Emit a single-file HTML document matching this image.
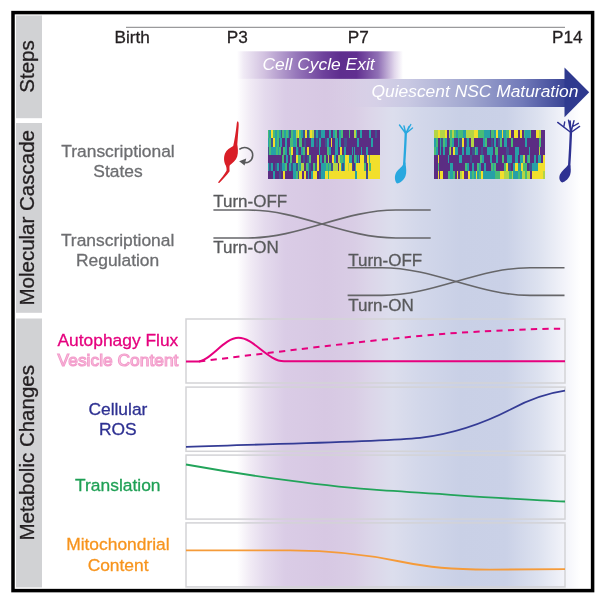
<!DOCTYPE html>
<html><head><meta charset="utf-8"><style>
html,body{margin:0;padding:0;background:#fff;width:595px;height:598px;overflow:hidden}
svg{display:block;filter:blur(0.55px)}
text{font-family:"Liberation Sans", sans-serif}
</style></head><body>
<svg width="595" height="598" viewBox="0 0 595 598">
<defs>
<linearGradient id="bg" gradientUnits="userSpaceOnUse" x1="237" y1="0" x2="591" y2="0">
<stop offset="0" stop-color="#ffffff"/>
<stop offset="0.037" stop-color="#f1ebf5"/>
<stop offset="0.079" stop-color="#e4daed"/>
<stop offset="0.136" stop-color="#dacce6"/>
<stop offset="0.25" stop-color="#d7c8e3"/>
<stop offset="0.33" stop-color="#d9cde5"/>
<stop offset="0.38" stop-color="#dcd6e9"/>
<stop offset="0.44" stop-color="#dcdeed"/>
<stop offset="0.52" stop-color="#d2d7ea"/>
<stop offset="0.63" stop-color="#c9d0e6"/>
<stop offset="0.76" stop-color="#cad1e7"/>
<stop offset="0.85" stop-color="#dce1ef"/>
<stop offset="0.927" stop-color="#f3f4fa"/>
<stop offset="0.97" stop-color="#ffffff"/>
<stop offset="1" stop-color="#ffffff"/>
</linearGradient>
<linearGradient id="pbar" gradientUnits="userSpaceOnUse" x1="237" y1="0" x2="403" y2="0">
<stop offset="0" stop-color="#ffffff"/>
<stop offset="0.04" stop-color="#f0eaf5"/>
<stop offset="0.16" stop-color="#d3c3e1"/>
<stop offset="0.36" stop-color="#9677ba"/>
<stop offset="0.52" stop-color="#6e429c"/>
<stop offset="0.62" stop-color="#5e2e8e"/>
<stop offset="0.72" stop-color="#612f90"/>
<stop offset="0.85" stop-color="#9070b5"/>
<stop offset="0.95" stop-color="#e2d8ec"/>
<stop offset="1" stop-color="#ffffff"/>
</linearGradient>
<linearGradient id="arrow" gradientUnits="userSpaceOnUse" x1="237" y1="0" x2="565" y2="0">
<stop offset="0" stop-color="#d8c9e3" stop-opacity="0"/>
<stop offset="0.28" stop-color="#d8cbe4" stop-opacity="0"/>
<stop offset="0.42" stop-color="#d6d0e7"/>
<stop offset="0.52" stop-color="#c9c9e3"/>
<stop offset="0.71" stop-color="#a0a6cf"/>
<stop offset="0.87" stop-color="#717ab9"/>
<stop offset="1" stop-color="#3a4495"/>
</linearGradient>
</defs>

<!-- background gradient -->
<rect x="237" y="79" width="354" height="509" fill="url(#bg)"/>

<!-- sidebars -->
<g fill="#d1d2d4">
<rect x="16" y="15.5" width="26" height="102.7"/>
<rect x="16" y="123" width="26" height="189.8"/>
<rect x="16" y="318.5" width="26" height="268.9"/>
</g>
<g font-size="20.5" fill="#231f20" stroke="#231f20" stroke-width="0.3" text-anchor="middle">
<text transform="translate(34.2,66.5) rotate(-90)">Steps</text>
<text transform="translate(34.2,217.8) rotate(-90)">Molecular Cascade</text>
<text transform="translate(34.2,452.8) rotate(-90)">Metabolic Changes</text>
</g>

<!-- timeline -->
<line x1="126" y1="27.3" x2="565" y2="27.3" stroke="#9a9a9c" stroke-width="1.3"/>
<g font-size="17.2" fill="#231f20" stroke="#231f20" stroke-width="0.3">
<text x="114.5" y="42.7">Birth</text>
<text x="226.8" y="42.7">P3</text>
<text x="347.8" y="42.7">P7</text>
<text x="552" y="42.7">P14</text>
</g>

<!-- purple bar -->
<rect x="237" y="51.3" width="166" height="27.6" fill="url(#pbar)"/>
<text x="262.5" y="69.6" font-size="17.4" font-style="italic" fill="#ffffff">Cell Cycle Exit</text>

<!-- arrow -->
<rect x="237" y="79" width="328" height="28" fill="url(#arrow)"/>
<polygon points="564.5,67.6 589.2,92.3 564.5,117.2" fill="#2f3a8f"/>
<text x="371.5" y="96.5" font-size="17.4" font-style="italic" fill="#ffffff">Quiescent NSC Maturation</text>

<!-- labels -->
<g font-size="17.4" fill="#6d6e71" stroke="#6d6e71" stroke-width="0.3" text-anchor="middle">
<text x="118" y="156.5">Transcriptional</text>
<text x="118" y="176.5">States</text>
<text x="117.6" y="246">Transcriptional</text>
<text x="117.6" y="266">Regulation</text>
</g>

<!-- red cell -->
<path d="M237.8,121.3 C238.8,122 238.8,124 238.6,127 L237.3,144.5 C237.8,148 238.5,152 237.2,156.5 C236,160.5 232.5,162.8 229.8,165.2 C229.2,166.5 229.6,169.5 229.6,171.2 C227,175 222.5,179.5 219.5,182.8 C218.8,183.3 218,182.8 218.3,182 C221,178.5 224.5,174.5 226.5,170.8 C226.8,169 226.4,167 225.8,165.5 C223.8,162.5 223.5,157 225,153.5 C226.5,150 230,147.8 233.2,146 C234.5,140 235.8,132 236.6,125 C236.8,122.5 237.2,121.3 237.8,121.3 Z" fill="#d91e27"/>
<!-- cycle arrow -->
<path d="M239.3,149.3 C245.5,145 253,149.5 252.7,155.5 C252.4,161.5 247,163.5 243.5,162.3" fill="none" stroke="#58595b" stroke-width="1.6"/>
<polygon points="239.2,161.2 246.2,158.6 244.6,165.6" fill="#58595b"/>

<!-- heatmaps -->
<g shape-rendering="crispEdges">
<rect x="267.60" y="130.30" width="2.07" height="8.40" fill="#48bc76"/>
<rect x="269.42" y="130.30" width="2.07" height="8.40" fill="#27a0a7"/>
<rect x="271.24" y="130.30" width="2.07" height="8.40" fill="#f2df2c"/>
<rect x="273.06" y="130.30" width="2.07" height="8.40" fill="#48bc76"/>
<rect x="274.88" y="130.30" width="2.07" height="8.40" fill="#27a0a7"/>
<rect x="276.70" y="130.30" width="2.07" height="8.40" fill="#48bc76"/>
<rect x="278.52" y="130.30" width="1.16" height="8.40" fill="#40538f"/>
<rect x="279.43" y="130.30" width="2.07" height="8.40" fill="#27a0a7"/>
<rect x="281.25" y="130.30" width="1.16" height="8.40" fill="#40538f"/>
<rect x="282.16" y="130.30" width="2.07" height="8.40" fill="#48bc76"/>
<rect x="283.98" y="130.30" width="2.07" height="8.40" fill="#27a0a7"/>
<rect x="285.80" y="130.30" width="2.07" height="8.40" fill="#48bc76"/>
<rect x="287.61" y="130.30" width="2.07" height="8.40" fill="#27a0a7"/>
<rect x="289.43" y="130.30" width="2.07" height="8.40" fill="#40538f"/>
<rect x="291.25" y="130.30" width="2.07" height="8.40" fill="#48bc76"/>
<rect x="293.07" y="130.30" width="2.98" height="8.40" fill="#27a0a7"/>
<rect x="295.80" y="130.30" width="2.07" height="8.40" fill="#b3d546"/>
<rect x="297.62" y="130.30" width="2.07" height="8.40" fill="#f2df2c"/>
<rect x="299.44" y="130.30" width="2.07" height="8.40" fill="#48bc76"/>
<rect x="301.26" y="130.30" width="2.07" height="8.40" fill="#27a0a7"/>
<rect x="303.08" y="130.30" width="2.07" height="8.40" fill="#40538f"/>
<rect x="304.90" y="130.30" width="2.07" height="8.40" fill="#f2df2c"/>
<rect x="306.72" y="130.30" width="2.07" height="8.40" fill="#40538f"/>
<rect x="308.54" y="130.30" width="2.07" height="8.40" fill="#48bc76"/>
<rect x="310.36" y="130.30" width="2.07" height="8.40" fill="#f2df2c"/>
<rect x="312.18" y="130.30" width="2.07" height="8.40" fill="#b3d546"/>
<rect x="314.00" y="130.30" width="2.07" height="8.40" fill="#40538f"/>
<rect x="315.82" y="130.30" width="2.07" height="8.40" fill="#27a0a7"/>
<rect x="317.64" y="130.30" width="3.89" height="8.40" fill="#40538f"/>
<rect x="321.28" y="130.30" width="3.89" height="8.40" fill="#27a0a7"/>
<rect x="324.91" y="130.30" width="3.89" height="8.40" fill="#5b2d83"/>
<rect x="328.55" y="130.30" width="2.98" height="8.40" fill="#27a0a7"/>
<rect x="331.28" y="130.30" width="2.07" height="8.40" fill="#5b2d83"/>
<rect x="333.10" y="130.30" width="2.07" height="8.40" fill="#27a0a7"/>
<rect x="334.92" y="130.30" width="2.07" height="8.40" fill="#48bc76"/>
<rect x="336.74" y="130.30" width="2.98" height="8.40" fill="#5b2d83"/>
<rect x="339.47" y="130.30" width="2.07" height="8.40" fill="#27a0a7"/>
<rect x="341.29" y="130.30" width="2.07" height="8.40" fill="#48bc76"/>
<rect x="343.11" y="130.30" width="5.71" height="8.40" fill="#5b2d83"/>
<rect x="348.57" y="130.30" width="2.07" height="8.40" fill="#48bc76"/>
<rect x="350.39" y="130.30" width="3.89" height="8.40" fill="#5b2d83"/>
<rect x="354.03" y="130.30" width="2.07" height="8.40" fill="#b3d546"/>
<rect x="355.85" y="130.30" width="1.16" height="8.40" fill="#27a0a7"/>
<rect x="356.76" y="130.30" width="3.89" height="8.40" fill="#5b2d83"/>
<rect x="360.40" y="130.30" width="2.07" height="8.40" fill="#27a0a7"/>
<rect x="362.21" y="130.30" width="6.62" height="8.40" fill="#5b2d83"/>
<rect x="368.58" y="130.30" width="1.16" height="8.40" fill="#40538f"/>
<rect x="369.49" y="130.30" width="2.07" height="8.40" fill="#27a0a7"/>
<rect x="371.31" y="130.30" width="3.89" height="8.40" fill="#5b2d83"/>
<rect x="374.95" y="130.30" width="2.07" height="8.40" fill="#40538f"/>
<rect x="376.77" y="130.30" width="2.98" height="8.40" fill="#5b2d83"/>
<rect x="267.60" y="138.45" width="2.07" height="8.40" fill="#27a0a7"/>
<rect x="269.42" y="138.45" width="2.07" height="8.40" fill="#48bc76"/>
<rect x="271.24" y="138.45" width="2.07" height="8.40" fill="#40538f"/>
<rect x="273.06" y="138.45" width="2.07" height="8.40" fill="#f2df2c"/>
<rect x="274.88" y="138.45" width="2.07" height="8.40" fill="#27a0a7"/>
<rect x="276.70" y="138.45" width="2.07" height="8.40" fill="#48bc76"/>
<rect x="278.52" y="138.45" width="2.07" height="8.40" fill="#40538f"/>
<rect x="280.34" y="138.45" width="2.07" height="8.40" fill="#27a0a7"/>
<rect x="282.16" y="138.45" width="2.98" height="8.40" fill="#5b2d83"/>
<rect x="284.89" y="138.45" width="2.07" height="8.40" fill="#27a0a7"/>
<rect x="286.70" y="138.45" width="3.89" height="8.40" fill="#5b2d83"/>
<rect x="290.34" y="138.45" width="2.98" height="8.40" fill="#48bc76"/>
<rect x="293.07" y="138.45" width="2.98" height="8.40" fill="#27a0a7"/>
<rect x="295.80" y="138.45" width="1.16" height="8.40" fill="#48bc76"/>
<rect x="296.71" y="138.45" width="2.07" height="8.40" fill="#5b2d83"/>
<rect x="298.53" y="138.45" width="3.89" height="8.40" fill="#48bc76"/>
<rect x="302.17" y="138.45" width="2.07" height="8.40" fill="#5b2d83"/>
<rect x="303.99" y="138.45" width="2.07" height="8.40" fill="#40538f"/>
<rect x="305.81" y="138.45" width="5.71" height="8.40" fill="#5b2d83"/>
<rect x="311.27" y="138.45" width="2.98" height="8.40" fill="#27a0a7"/>
<rect x="314.00" y="138.45" width="2.07" height="8.40" fill="#5b2d83"/>
<rect x="315.82" y="138.45" width="2.07" height="8.40" fill="#40538f"/>
<rect x="317.64" y="138.45" width="2.07" height="8.40" fill="#5b2d83"/>
<rect x="319.46" y="138.45" width="2.07" height="8.40" fill="#27a0a7"/>
<rect x="321.28" y="138.45" width="3.89" height="8.40" fill="#5b2d83"/>
<rect x="324.91" y="138.45" width="2.07" height="8.40" fill="#40538f"/>
<rect x="326.73" y="138.45" width="2.98" height="8.40" fill="#27a0a7"/>
<rect x="329.46" y="138.45" width="2.07" height="8.40" fill="#5b2d83"/>
<rect x="331.28" y="138.45" width="1.16" height="8.40" fill="#f2df2c"/>
<rect x="332.19" y="138.45" width="2.98" height="8.40" fill="#5b2d83"/>
<rect x="334.92" y="138.45" width="2.98" height="8.40" fill="#27a0a7"/>
<rect x="337.65" y="138.45" width="2.07" height="8.40" fill="#5b2d83"/>
<rect x="339.47" y="138.45" width="2.07" height="8.40" fill="#27a0a7"/>
<rect x="341.29" y="138.45" width="2.98" height="8.40" fill="#5b2d83"/>
<rect x="344.02" y="138.45" width="2.98" height="8.40" fill="#40538f"/>
<rect x="346.75" y="138.45" width="10.26" height="8.40" fill="#5b2d83"/>
<rect x="356.76" y="138.45" width="2.07" height="8.40" fill="#27a0a7"/>
<rect x="358.58" y="138.45" width="12.99" height="8.40" fill="#5b2d83"/>
<rect x="371.31" y="138.45" width="2.07" height="8.40" fill="#27a0a7"/>
<rect x="373.13" y="138.45" width="6.62" height="8.40" fill="#5b2d83"/>
<rect x="267.60" y="146.60" width="2.07" height="8.40" fill="#40538f"/>
<rect x="269.42" y="146.60" width="2.07" height="8.40" fill="#48bc76"/>
<rect x="271.24" y="146.60" width="4.80" height="8.40" fill="#27a0a7"/>
<rect x="275.79" y="146.60" width="2.07" height="8.40" fill="#48bc76"/>
<rect x="277.61" y="146.60" width="2.07" height="8.40" fill="#27a0a7"/>
<rect x="279.43" y="146.60" width="2.07" height="8.40" fill="#48bc76"/>
<rect x="281.25" y="146.60" width="2.07" height="8.40" fill="#5b2d83"/>
<rect x="283.07" y="146.60" width="2.07" height="8.40" fill="#48bc76"/>
<rect x="284.89" y="146.60" width="2.07" height="8.40" fill="#27a0a7"/>
<rect x="286.70" y="146.60" width="2.98" height="8.40" fill="#5b2d83"/>
<rect x="289.43" y="146.60" width="2.07" height="8.40" fill="#48bc76"/>
<rect x="291.25" y="146.60" width="2.07" height="8.40" fill="#f2df2c"/>
<rect x="293.07" y="146.60" width="2.98" height="8.40" fill="#5b2d83"/>
<rect x="295.80" y="146.60" width="2.07" height="8.40" fill="#27a0a7"/>
<rect x="297.62" y="146.60" width="2.07" height="8.40" fill="#40538f"/>
<rect x="299.44" y="146.60" width="2.07" height="8.40" fill="#5b2d83"/>
<rect x="301.26" y="146.60" width="2.07" height="8.40" fill="#27a0a7"/>
<rect x="303.08" y="146.60" width="2.07" height="8.40" fill="#48bc76"/>
<rect x="304.90" y="146.60" width="2.07" height="8.40" fill="#5b2d83"/>
<rect x="306.72" y="146.60" width="2.07" height="8.40" fill="#f2df2c"/>
<rect x="308.54" y="146.60" width="10.26" height="8.40" fill="#5b2d83"/>
<rect x="318.55" y="146.60" width="2.07" height="8.40" fill="#27a0a7"/>
<rect x="320.37" y="146.60" width="6.62" height="8.40" fill="#5b2d83"/>
<rect x="326.73" y="146.60" width="2.07" height="8.40" fill="#48bc76"/>
<rect x="328.55" y="146.60" width="2.98" height="8.40" fill="#27a0a7"/>
<rect x="331.28" y="146.60" width="3.89" height="8.40" fill="#5b2d83"/>
<rect x="334.92" y="146.60" width="2.98" height="8.40" fill="#27a0a7"/>
<rect x="337.65" y="146.60" width="2.98" height="8.40" fill="#5b2d83"/>
<rect x="340.38" y="146.60" width="2.07" height="8.40" fill="#f2df2c"/>
<rect x="342.20" y="146.60" width="2.07" height="8.40" fill="#5b2d83"/>
<rect x="344.02" y="146.60" width="2.07" height="8.40" fill="#27a0a7"/>
<rect x="345.84" y="146.60" width="6.62" height="8.40" fill="#5b2d83"/>
<rect x="352.21" y="146.60" width="1.16" height="8.40" fill="#27a0a7"/>
<rect x="353.12" y="146.60" width="1.16" height="8.40" fill="#5b2d83"/>
<rect x="354.03" y="146.60" width="1.16" height="8.40" fill="#27a0a7"/>
<rect x="354.94" y="146.60" width="6.62" height="8.40" fill="#5b2d83"/>
<rect x="361.30" y="146.60" width="1.16" height="8.40" fill="#27a0a7"/>
<rect x="362.21" y="146.60" width="3.89" height="8.40" fill="#5b2d83"/>
<rect x="365.85" y="146.60" width="2.07" height="8.40" fill="#27a0a7"/>
<rect x="367.67" y="146.60" width="1.16" height="8.40" fill="#5b2d83"/>
<rect x="368.58" y="146.60" width="1.16" height="8.40" fill="#27a0a7"/>
<rect x="369.49" y="146.60" width="10.26" height="8.40" fill="#5b2d83"/>
<rect x="267.60" y="154.75" width="14.81" height="8.40" fill="#5b2d83"/>
<rect x="282.16" y="154.75" width="2.07" height="8.40" fill="#48bc76"/>
<rect x="283.98" y="154.75" width="2.07" height="8.40" fill="#5b2d83"/>
<rect x="285.80" y="154.75" width="2.07" height="8.40" fill="#27a0a7"/>
<rect x="287.61" y="154.75" width="2.98" height="8.40" fill="#5b2d83"/>
<rect x="290.34" y="154.75" width="2.07" height="8.40" fill="#48bc76"/>
<rect x="292.16" y="154.75" width="3.89" height="8.40" fill="#5b2d83"/>
<rect x="295.80" y="154.75" width="2.07" height="8.40" fill="#f2df2c"/>
<rect x="297.62" y="154.75" width="3.89" height="8.40" fill="#48bc76"/>
<rect x="301.26" y="154.75" width="2.07" height="8.40" fill="#5b2d83"/>
<rect x="303.08" y="154.75" width="2.07" height="8.40" fill="#40538f"/>
<rect x="304.90" y="154.75" width="2.07" height="8.40" fill="#5b2d83"/>
<rect x="306.72" y="154.75" width="2.07" height="8.40" fill="#40538f"/>
<rect x="308.54" y="154.75" width="2.98" height="8.40" fill="#48bc76"/>
<rect x="311.27" y="154.75" width="5.71" height="8.40" fill="#5b2d83"/>
<rect x="316.73" y="154.75" width="2.07" height="8.40" fill="#f2df2c"/>
<rect x="318.55" y="154.75" width="2.07" height="8.40" fill="#5b2d83"/>
<rect x="320.37" y="154.75" width="2.07" height="8.40" fill="#27a0a7"/>
<rect x="322.19" y="154.75" width="2.07" height="8.40" fill="#5b2d83"/>
<rect x="324.00" y="154.75" width="2.07" height="8.40" fill="#48bc76"/>
<rect x="325.82" y="154.75" width="2.07" height="8.40" fill="#5b2d83"/>
<rect x="327.64" y="154.75" width="2.07" height="8.40" fill="#b3d546"/>
<rect x="329.46" y="154.75" width="2.98" height="8.40" fill="#5b2d83"/>
<rect x="332.19" y="154.75" width="2.07" height="8.40" fill="#f2df2c"/>
<rect x="334.01" y="154.75" width="2.07" height="8.40" fill="#27a0a7"/>
<rect x="335.83" y="154.75" width="2.07" height="8.40" fill="#5b2d83"/>
<rect x="337.65" y="154.75" width="2.98" height="8.40" fill="#b3d546"/>
<rect x="340.38" y="154.75" width="2.98" height="8.40" fill="#48bc76"/>
<rect x="343.11" y="154.75" width="2.07" height="8.40" fill="#27a0a7"/>
<rect x="344.93" y="154.75" width="4.80" height="8.40" fill="#f2df2c"/>
<rect x="349.48" y="154.75" width="2.98" height="8.40" fill="#27a0a7"/>
<rect x="352.21" y="154.75" width="2.07" height="8.40" fill="#5b2d83"/>
<rect x="354.03" y="154.75" width="2.07" height="8.40" fill="#48bc76"/>
<rect x="355.85" y="154.75" width="1.16" height="8.40" fill="#27a0a7"/>
<rect x="356.76" y="154.75" width="1.16" height="8.40" fill="#40538f"/>
<rect x="357.67" y="154.75" width="1.16" height="8.40" fill="#27a0a7"/>
<rect x="358.58" y="154.75" width="1.16" height="8.40" fill="#40538f"/>
<rect x="359.49" y="154.75" width="1.16" height="8.40" fill="#5b2d83"/>
<rect x="360.40" y="154.75" width="3.89" height="8.40" fill="#f2df2c"/>
<rect x="364.03" y="154.75" width="2.07" height="8.40" fill="#40538f"/>
<rect x="365.85" y="154.75" width="1.16" height="8.40" fill="#5b2d83"/>
<rect x="366.76" y="154.75" width="2.07" height="8.40" fill="#f2df2c"/>
<rect x="368.58" y="154.75" width="2.07" height="8.40" fill="#48bc76"/>
<rect x="370.40" y="154.75" width="9.35" height="8.40" fill="#f2df2c"/>
<rect x="267.60" y="162.90" width="2.07" height="8.40" fill="#27a0a7"/>
<rect x="269.42" y="162.90" width="2.07" height="8.40" fill="#40538f"/>
<rect x="271.24" y="162.90" width="2.07" height="8.40" fill="#27a0a7"/>
<rect x="273.06" y="162.90" width="2.07" height="8.40" fill="#5b2d83"/>
<rect x="274.88" y="162.90" width="2.07" height="8.40" fill="#40538f"/>
<rect x="276.70" y="162.90" width="2.07" height="8.40" fill="#27a0a7"/>
<rect x="278.52" y="162.90" width="2.07" height="8.40" fill="#5b2d83"/>
<rect x="280.34" y="162.90" width="2.07" height="8.40" fill="#40538f"/>
<rect x="282.16" y="162.90" width="2.98" height="8.40" fill="#27a0a7"/>
<rect x="284.89" y="162.90" width="2.07" height="8.40" fill="#48bc76"/>
<rect x="286.70" y="162.90" width="2.07" height="8.40" fill="#5b2d83"/>
<rect x="288.52" y="162.90" width="2.98" height="8.40" fill="#27a0a7"/>
<rect x="291.25" y="162.90" width="2.07" height="8.40" fill="#40538f"/>
<rect x="293.07" y="162.90" width="2.98" height="8.40" fill="#27a0a7"/>
<rect x="295.80" y="162.90" width="2.07" height="8.40" fill="#40538f"/>
<rect x="297.62" y="162.90" width="2.07" height="8.40" fill="#48bc76"/>
<rect x="299.44" y="162.90" width="2.07" height="8.40" fill="#27a0a7"/>
<rect x="301.26" y="162.90" width="2.98" height="8.40" fill="#b3d546"/>
<rect x="303.99" y="162.90" width="2.07" height="8.40" fill="#5b2d83"/>
<rect x="305.81" y="162.90" width="2.07" height="8.40" fill="#48bc76"/>
<rect x="307.63" y="162.90" width="2.07" height="8.40" fill="#27a0a7"/>
<rect x="309.45" y="162.90" width="2.07" height="8.40" fill="#40538f"/>
<rect x="311.27" y="162.90" width="2.07" height="8.40" fill="#5b2d83"/>
<rect x="313.09" y="162.90" width="2.07" height="8.40" fill="#48bc76"/>
<rect x="314.91" y="162.90" width="2.07" height="8.40" fill="#40538f"/>
<rect x="316.73" y="162.90" width="2.07" height="8.40" fill="#f2df2c"/>
<rect x="318.55" y="162.90" width="2.98" height="8.40" fill="#5b2d83"/>
<rect x="321.28" y="162.90" width="4.80" height="8.40" fill="#27a0a7"/>
<rect x="325.82" y="162.90" width="2.07" height="8.40" fill="#48bc76"/>
<rect x="327.64" y="162.90" width="2.07" height="8.40" fill="#27a0a7"/>
<rect x="329.46" y="162.90" width="2.07" height="8.40" fill="#48bc76"/>
<rect x="331.28" y="162.90" width="2.07" height="8.40" fill="#40538f"/>
<rect x="333.10" y="162.90" width="4.80" height="8.40" fill="#b3d546"/>
<rect x="337.65" y="162.90" width="2.07" height="8.40" fill="#5b2d83"/>
<rect x="339.47" y="162.90" width="2.07" height="8.40" fill="#f2df2c"/>
<rect x="341.29" y="162.90" width="1.16" height="8.40" fill="#27a0a7"/>
<rect x="342.20" y="162.90" width="2.07" height="8.40" fill="#40538f"/>
<rect x="344.02" y="162.90" width="1.16" height="8.40" fill="#27a0a7"/>
<rect x="344.93" y="162.90" width="2.98" height="8.40" fill="#f2df2c"/>
<rect x="347.66" y="162.90" width="2.07" height="8.40" fill="#b3d546"/>
<rect x="349.48" y="162.90" width="2.98" height="8.40" fill="#f2df2c"/>
<rect x="352.21" y="162.90" width="1.16" height="8.40" fill="#40538f"/>
<rect x="353.12" y="162.90" width="2.07" height="8.40" fill="#5b2d83"/>
<rect x="354.94" y="162.90" width="1.16" height="8.40" fill="#27a0a7"/>
<rect x="355.85" y="162.90" width="8.44" height="8.40" fill="#f2df2c"/>
<rect x="364.03" y="162.90" width="2.07" height="8.40" fill="#48bc76"/>
<rect x="365.85" y="162.90" width="2.07" height="8.40" fill="#5b2d83"/>
<rect x="367.67" y="162.90" width="2.07" height="8.40" fill="#f2df2c"/>
<rect x="369.49" y="162.90" width="2.07" height="8.40" fill="#48bc76"/>
<rect x="371.31" y="162.90" width="8.44" height="8.40" fill="#f2df2c"/>
<rect x="267.60" y="171.05" width="5.71" height="8.40" fill="#5b2d83"/>
<rect x="273.06" y="171.05" width="2.07" height="8.40" fill="#27a0a7"/>
<rect x="274.88" y="171.05" width="4.80" height="8.40" fill="#5b2d83"/>
<rect x="279.43" y="171.05" width="2.07" height="8.40" fill="#40538f"/>
<rect x="281.25" y="171.05" width="2.07" height="8.40" fill="#5b2d83"/>
<rect x="283.07" y="171.05" width="2.07" height="8.40" fill="#f2df2c"/>
<rect x="284.89" y="171.05" width="8.44" height="8.40" fill="#5b2d83"/>
<rect x="293.07" y="171.05" width="2.98" height="8.40" fill="#27a0a7"/>
<rect x="295.80" y="171.05" width="2.07" height="8.40" fill="#48bc76"/>
<rect x="297.62" y="171.05" width="2.07" height="8.40" fill="#40538f"/>
<rect x="299.44" y="171.05" width="2.98" height="8.40" fill="#f2df2c"/>
<rect x="302.17" y="171.05" width="2.07" height="8.40" fill="#5b2d83"/>
<rect x="303.99" y="171.05" width="2.07" height="8.40" fill="#f2df2c"/>
<rect x="305.81" y="171.05" width="2.07" height="8.40" fill="#5b2d83"/>
<rect x="307.63" y="171.05" width="2.07" height="8.40" fill="#27a0a7"/>
<rect x="309.45" y="171.05" width="2.07" height="8.40" fill="#5b2d83"/>
<rect x="311.27" y="171.05" width="2.07" height="8.40" fill="#27a0a7"/>
<rect x="313.09" y="171.05" width="3.89" height="8.40" fill="#f2df2c"/>
<rect x="316.73" y="171.05" width="2.07" height="8.40" fill="#5b2d83"/>
<rect x="318.55" y="171.05" width="2.98" height="8.40" fill="#40538f"/>
<rect x="321.28" y="171.05" width="3.89" height="8.40" fill="#27a0a7"/>
<rect x="324.91" y="171.05" width="2.98" height="8.40" fill="#f2df2c"/>
<rect x="327.64" y="171.05" width="2.07" height="8.40" fill="#48bc76"/>
<rect x="329.46" y="171.05" width="25.72" height="8.40" fill="#f2df2c"/>
<rect x="354.94" y="171.05" width="2.07" height="8.40" fill="#27a0a7"/>
<rect x="356.76" y="171.05" width="9.35" height="8.40" fill="#f2df2c"/>
<rect x="365.85" y="171.05" width="2.07" height="8.40" fill="#40538f"/>
<rect x="367.67" y="171.05" width="12.08" height="8.40" fill="#f2df2c"/>
<rect x="434.10" y="130.30" width="3.85" height="8.38" fill="#b3d546"/>
<rect x="437.70" y="130.30" width="2.05" height="8.38" fill="#f2df2c"/>
<rect x="439.50" y="130.30" width="5.65" height="8.38" fill="#b3d546"/>
<rect x="444.90" y="130.30" width="2.05" height="8.38" fill="#f2df2c"/>
<rect x="446.70" y="130.30" width="2.05" height="8.38" fill="#5b2d83"/>
<rect x="448.50" y="130.30" width="2.05" height="8.38" fill="#b3d546"/>
<rect x="450.30" y="130.30" width="2.05" height="8.38" fill="#48bc76"/>
<rect x="452.10" y="130.30" width="2.05" height="8.38" fill="#b3d546"/>
<rect x="453.90" y="130.30" width="2.05" height="8.38" fill="#48bc76"/>
<rect x="455.70" y="130.30" width="2.05" height="8.38" fill="#27a0a7"/>
<rect x="457.50" y="130.30" width="5.65" height="8.38" fill="#48bc76"/>
<rect x="462.90" y="130.30" width="2.95" height="8.38" fill="#27a0a7"/>
<rect x="465.60" y="130.30" width="8.35" height="8.38" fill="#b3d546"/>
<rect x="473.70" y="130.30" width="4.75" height="8.38" fill="#f2df2c"/>
<rect x="478.20" y="130.30" width="5.65" height="8.38" fill="#48bc76"/>
<rect x="483.60" y="130.30" width="6.55" height="8.38" fill="#27a0a7"/>
<rect x="489.90" y="130.30" width="1.15" height="8.38" fill="#40538f"/>
<rect x="490.80" y="130.30" width="2.95" height="8.38" fill="#48bc76"/>
<rect x="493.50" y="130.30" width="2.95" height="8.38" fill="#27a0a7"/>
<rect x="496.20" y="130.30" width="2.05" height="8.38" fill="#f2df2c"/>
<rect x="498.00" y="130.30" width="3.85" height="8.38" fill="#27a0a7"/>
<rect x="501.60" y="130.30" width="2.05" height="8.38" fill="#f2df2c"/>
<rect x="503.40" y="130.30" width="2.95" height="8.38" fill="#27a0a7"/>
<rect x="506.10" y="130.30" width="2.95" height="8.38" fill="#48bc76"/>
<rect x="508.80" y="130.30" width="2.05" height="8.38" fill="#f2df2c"/>
<rect x="510.60" y="130.30" width="3.85" height="8.38" fill="#5b2d83"/>
<rect x="514.20" y="130.30" width="3.85" height="8.38" fill="#f2df2c"/>
<rect x="517.80" y="130.30" width="2.05" height="8.38" fill="#5b2d83"/>
<rect x="519.60" y="130.30" width="2.95" height="8.38" fill="#f2df2c"/>
<rect x="522.30" y="130.30" width="2.05" height="8.38" fill="#5b2d83"/>
<rect x="524.10" y="130.30" width="1.15" height="8.38" fill="#48bc76"/>
<rect x="525.00" y="130.30" width="5.65" height="8.38" fill="#27a0a7"/>
<rect x="530.40" y="130.30" width="1.15" height="8.38" fill="#48bc76"/>
<rect x="531.30" y="130.30" width="4.75" height="8.38" fill="#5b2d83"/>
<rect x="535.80" y="130.30" width="2.95" height="8.38" fill="#f2df2c"/>
<rect x="538.50" y="130.30" width="1.15" height="8.38" fill="#5b2d83"/>
<rect x="539.40" y="130.30" width="2.05" height="8.38" fill="#b3d546"/>
<rect x="541.20" y="130.30" width="3.85" height="8.38" fill="#5b2d83"/>
<rect x="434.10" y="138.43" width="2.05" height="8.38" fill="#27a0a7"/>
<rect x="435.90" y="138.43" width="2.05" height="8.38" fill="#48bc76"/>
<rect x="437.70" y="138.43" width="2.05" height="8.38" fill="#5b2d83"/>
<rect x="439.50" y="138.43" width="2.05" height="8.38" fill="#27a0a7"/>
<rect x="441.30" y="138.43" width="2.05" height="8.38" fill="#40538f"/>
<rect x="443.10" y="138.43" width="2.05" height="8.38" fill="#48bc76"/>
<rect x="444.90" y="138.43" width="2.05" height="8.38" fill="#27a0a7"/>
<rect x="446.70" y="138.43" width="2.05" height="8.38" fill="#5b2d83"/>
<rect x="448.50" y="138.43" width="2.05" height="8.38" fill="#40538f"/>
<rect x="450.30" y="138.43" width="2.05" height="8.38" fill="#48bc76"/>
<rect x="452.10" y="138.43" width="2.05" height="8.38" fill="#27a0a7"/>
<rect x="453.90" y="138.43" width="3.85" height="8.38" fill="#5b2d83"/>
<rect x="457.50" y="138.43" width="2.05" height="8.38" fill="#27a0a7"/>
<rect x="459.30" y="138.43" width="2.95" height="8.38" fill="#40538f"/>
<rect x="462.00" y="138.43" width="2.05" height="8.38" fill="#f2df2c"/>
<rect x="463.80" y="138.43" width="2.05" height="8.38" fill="#5b2d83"/>
<rect x="465.60" y="138.43" width="2.05" height="8.38" fill="#40538f"/>
<rect x="467.40" y="138.43" width="2.05" height="8.38" fill="#27a0a7"/>
<rect x="469.20" y="138.43" width="2.05" height="8.38" fill="#5b2d83"/>
<rect x="471.00" y="138.43" width="2.95" height="8.38" fill="#b3d546"/>
<rect x="473.70" y="138.43" width="9.25" height="8.38" fill="#5b2d83"/>
<rect x="482.70" y="138.43" width="2.05" height="8.38" fill="#27a0a7"/>
<rect x="484.50" y="138.43" width="2.95" height="8.38" fill="#48bc76"/>
<rect x="487.20" y="138.43" width="3.85" height="8.38" fill="#5b2d83"/>
<rect x="490.80" y="138.43" width="2.05" height="8.38" fill="#40538f"/>
<rect x="492.60" y="138.43" width="2.05" height="8.38" fill="#5b2d83"/>
<rect x="494.40" y="138.43" width="2.05" height="8.38" fill="#27a0a7"/>
<rect x="496.20" y="138.43" width="2.05" height="8.38" fill="#5b2d83"/>
<rect x="498.00" y="138.43" width="2.05" height="8.38" fill="#40538f"/>
<rect x="499.80" y="138.43" width="2.05" height="8.38" fill="#48bc76"/>
<rect x="501.60" y="138.43" width="2.95" height="8.38" fill="#5b2d83"/>
<rect x="504.30" y="138.43" width="2.95" height="8.38" fill="#27a0a7"/>
<rect x="507.00" y="138.43" width="3.85" height="8.38" fill="#5b2d83"/>
<rect x="510.60" y="138.43" width="2.95" height="8.38" fill="#48bc76"/>
<rect x="513.30" y="138.43" width="11.95" height="8.38" fill="#5b2d83"/>
<rect x="525.00" y="138.43" width="2.05" height="8.38" fill="#27a0a7"/>
<rect x="526.80" y="138.43" width="12.85" height="8.38" fill="#5b2d83"/>
<rect x="539.40" y="138.43" width="2.05" height="8.38" fill="#48bc76"/>
<rect x="541.20" y="138.43" width="3.85" height="8.38" fill="#5b2d83"/>
<rect x="434.10" y="146.57" width="2.05" height="8.38" fill="#48bc76"/>
<rect x="435.90" y="146.57" width="2.05" height="8.38" fill="#27a0a7"/>
<rect x="437.70" y="146.57" width="2.05" height="8.38" fill="#5b2d83"/>
<rect x="439.50" y="146.57" width="2.05" height="8.38" fill="#27a0a7"/>
<rect x="441.30" y="146.57" width="2.05" height="8.38" fill="#5b2d83"/>
<rect x="443.10" y="146.57" width="2.05" height="8.38" fill="#27a0a7"/>
<rect x="444.90" y="146.57" width="3.85" height="8.38" fill="#5b2d83"/>
<rect x="448.50" y="146.57" width="2.05" height="8.38" fill="#48bc76"/>
<rect x="450.30" y="146.57" width="1.15" height="8.38" fill="#b3d546"/>
<rect x="451.20" y="146.57" width="2.05" height="8.38" fill="#5b2d83"/>
<rect x="453.00" y="146.57" width="2.05" height="8.38" fill="#f2df2c"/>
<rect x="454.80" y="146.57" width="3.85" height="8.38" fill="#27a0a7"/>
<rect x="458.40" y="146.57" width="3.85" height="8.38" fill="#5b2d83"/>
<rect x="462.00" y="146.57" width="2.05" height="8.38" fill="#27a0a7"/>
<rect x="463.80" y="146.57" width="2.05" height="8.38" fill="#5b2d83"/>
<rect x="465.60" y="146.57" width="4.75" height="8.38" fill="#27a0a7"/>
<rect x="470.10" y="146.57" width="2.05" height="8.38" fill="#5b2d83"/>
<rect x="471.90" y="146.57" width="2.95" height="8.38" fill="#40538f"/>
<rect x="474.60" y="146.57" width="2.05" height="8.38" fill="#48bc76"/>
<rect x="476.40" y="146.57" width="2.05" height="8.38" fill="#27a0a7"/>
<rect x="478.20" y="146.57" width="2.95" height="8.38" fill="#5b2d83"/>
<rect x="480.90" y="146.57" width="2.05" height="8.38" fill="#40538f"/>
<rect x="482.70" y="146.57" width="4.75" height="8.38" fill="#5b2d83"/>
<rect x="487.20" y="146.57" width="5.65" height="8.38" fill="#27a0a7"/>
<rect x="492.60" y="146.57" width="2.95" height="8.38" fill="#5b2d83"/>
<rect x="495.30" y="146.57" width="2.95" height="8.38" fill="#48bc76"/>
<rect x="498.00" y="146.57" width="8.35" height="8.38" fill="#5b2d83"/>
<rect x="506.10" y="146.57" width="2.95" height="8.38" fill="#40538f"/>
<rect x="508.80" y="146.57" width="6.55" height="8.38" fill="#5b2d83"/>
<rect x="515.10" y="146.57" width="3.85" height="8.38" fill="#27a0a7"/>
<rect x="518.70" y="146.57" width="10.15" height="8.38" fill="#5b2d83"/>
<rect x="528.60" y="146.57" width="2.05" height="8.38" fill="#27a0a7"/>
<rect x="530.40" y="146.57" width="8.35" height="8.38" fill="#5b2d83"/>
<rect x="538.50" y="146.57" width="2.05" height="8.38" fill="#b3d546"/>
<rect x="540.30" y="146.57" width="4.75" height="8.38" fill="#5b2d83"/>
<rect x="434.10" y="154.70" width="3.85" height="8.38" fill="#5b2d83"/>
<rect x="437.70" y="154.70" width="1.15" height="8.38" fill="#f2df2c"/>
<rect x="438.60" y="154.70" width="9.25" height="8.38" fill="#5b2d83"/>
<rect x="447.60" y="154.70" width="2.05" height="8.38" fill="#27a0a7"/>
<rect x="449.40" y="154.70" width="10.15" height="8.38" fill="#5b2d83"/>
<rect x="459.30" y="154.70" width="2.95" height="8.38" fill="#27a0a7"/>
<rect x="462.00" y="154.70" width="8.35" height="8.38" fill="#5b2d83"/>
<rect x="470.10" y="154.70" width="2.05" height="8.38" fill="#40538f"/>
<rect x="471.90" y="154.70" width="8.35" height="8.38" fill="#5b2d83"/>
<rect x="480.00" y="154.70" width="2.05" height="8.38" fill="#48bc76"/>
<rect x="481.80" y="154.70" width="2.05" height="8.38" fill="#27a0a7"/>
<rect x="483.60" y="154.70" width="6.55" height="8.38" fill="#5b2d83"/>
<rect x="489.90" y="154.70" width="2.05" height="8.38" fill="#27a0a7"/>
<rect x="491.70" y="154.70" width="4.75" height="8.38" fill="#5b2d83"/>
<rect x="496.20" y="154.70" width="2.05" height="8.38" fill="#27a0a7"/>
<rect x="498.00" y="154.70" width="3.85" height="8.38" fill="#5b2d83"/>
<rect x="501.60" y="154.70" width="2.95" height="8.38" fill="#48bc76"/>
<rect x="504.30" y="154.70" width="2.95" height="8.38" fill="#5b2d83"/>
<rect x="507.00" y="154.70" width="5.65" height="8.38" fill="#27a0a7"/>
<rect x="512.40" y="154.70" width="2.95" height="8.38" fill="#5b2d83"/>
<rect x="515.10" y="154.70" width="2.95" height="8.38" fill="#27a0a7"/>
<rect x="517.80" y="154.70" width="2.05" height="8.38" fill="#5b2d83"/>
<rect x="519.60" y="154.70" width="3.85" height="8.38" fill="#27a0a7"/>
<rect x="523.20" y="154.70" width="2.05" height="8.38" fill="#b3d546"/>
<rect x="525.00" y="154.70" width="2.05" height="8.38" fill="#5b2d83"/>
<rect x="526.80" y="154.70" width="1.15" height="8.38" fill="#27a0a7"/>
<rect x="527.70" y="154.70" width="2.05" height="8.38" fill="#48bc76"/>
<rect x="529.50" y="154.70" width="1.15" height="8.38" fill="#27a0a7"/>
<rect x="530.40" y="154.70" width="3.85" height="8.38" fill="#5b2d83"/>
<rect x="534.00" y="154.70" width="2.05" height="8.38" fill="#27a0a7"/>
<rect x="535.80" y="154.70" width="2.05" height="8.38" fill="#5b2d83"/>
<rect x="537.60" y="154.70" width="3.85" height="8.38" fill="#27a0a7"/>
<rect x="541.20" y="154.70" width="2.05" height="8.38" fill="#5b2d83"/>
<rect x="543.00" y="154.70" width="2.05" height="8.38" fill="#f2df2c"/>
<rect x="434.10" y="162.83" width="3.85" height="8.38" fill="#5b2d83"/>
<rect x="437.70" y="162.83" width="1.15" height="8.38" fill="#48bc76"/>
<rect x="438.60" y="162.83" width="11.95" height="8.38" fill="#5b2d83"/>
<rect x="450.30" y="162.83" width="2.95" height="8.38" fill="#27a0a7"/>
<rect x="453.00" y="162.83" width="11.95" height="8.38" fill="#5b2d83"/>
<rect x="464.70" y="162.83" width="2.95" height="8.38" fill="#48bc76"/>
<rect x="467.40" y="162.83" width="2.05" height="8.38" fill="#27a0a7"/>
<rect x="469.20" y="162.83" width="2.95" height="8.38" fill="#5b2d83"/>
<rect x="471.90" y="162.83" width="2.05" height="8.38" fill="#27a0a7"/>
<rect x="473.70" y="162.83" width="3.85" height="8.38" fill="#5b2d83"/>
<rect x="477.30" y="162.83" width="2.05" height="8.38" fill="#48bc76"/>
<rect x="479.10" y="162.83" width="2.05" height="8.38" fill="#27a0a7"/>
<rect x="480.90" y="162.83" width="2.95" height="8.38" fill="#5b2d83"/>
<rect x="483.60" y="162.83" width="2.95" height="8.38" fill="#27a0a7"/>
<rect x="486.30" y="162.83" width="4.75" height="8.38" fill="#5b2d83"/>
<rect x="490.80" y="162.83" width="2.05" height="8.38" fill="#48bc76"/>
<rect x="492.60" y="162.83" width="2.05" height="8.38" fill="#27a0a7"/>
<rect x="494.40" y="162.83" width="2.05" height="8.38" fill="#48bc76"/>
<rect x="496.20" y="162.83" width="8.35" height="8.38" fill="#5b2d83"/>
<rect x="504.30" y="162.83" width="2.05" height="8.38" fill="#48bc76"/>
<rect x="506.10" y="162.83" width="2.05" height="8.38" fill="#f2df2c"/>
<rect x="507.90" y="162.83" width="2.95" height="8.38" fill="#40538f"/>
<rect x="510.60" y="162.83" width="2.95" height="8.38" fill="#5b2d83"/>
<rect x="513.30" y="162.83" width="2.05" height="8.38" fill="#27a0a7"/>
<rect x="515.10" y="162.83" width="2.95" height="8.38" fill="#f2df2c"/>
<rect x="517.80" y="162.83" width="2.95" height="8.38" fill="#27a0a7"/>
<rect x="520.50" y="162.83" width="1.15" height="8.38" fill="#40538f"/>
<rect x="521.40" y="162.83" width="2.05" height="8.38" fill="#f2df2c"/>
<rect x="523.20" y="162.83" width="3.85" height="8.38" fill="#48bc76"/>
<rect x="526.80" y="162.83" width="2.05" height="8.38" fill="#5b2d83"/>
<rect x="528.60" y="162.83" width="3.85" height="8.38" fill="#40538f"/>
<rect x="532.20" y="162.83" width="5.65" height="8.38" fill="#27a0a7"/>
<rect x="537.60" y="162.83" width="7.45" height="8.38" fill="#f2df2c"/>
<rect x="434.10" y="170.97" width="3.85" height="8.38" fill="#5b2d83"/>
<rect x="437.70" y="170.97" width="1.15" height="8.38" fill="#f2df2c"/>
<rect x="438.60" y="170.97" width="2.05" height="8.38" fill="#5b2d83"/>
<rect x="440.40" y="170.97" width="2.95" height="8.38" fill="#f2df2c"/>
<rect x="443.10" y="170.97" width="4.75" height="8.38" fill="#5b2d83"/>
<rect x="447.60" y="170.97" width="2.95" height="8.38" fill="#48bc76"/>
<rect x="450.30" y="170.97" width="2.95" height="8.38" fill="#27a0a7"/>
<rect x="453.00" y="170.97" width="2.05" height="8.38" fill="#48bc76"/>
<rect x="454.80" y="170.97" width="2.05" height="8.38" fill="#5b2d83"/>
<rect x="456.60" y="170.97" width="2.05" height="8.38" fill="#f2df2c"/>
<rect x="458.40" y="170.97" width="2.05" height="8.38" fill="#5b2d83"/>
<rect x="460.20" y="170.97" width="2.05" height="8.38" fill="#b3d546"/>
<rect x="462.00" y="170.97" width="2.05" height="8.38" fill="#f2df2c"/>
<rect x="463.80" y="170.97" width="4.75" height="8.38" fill="#5b2d83"/>
<rect x="468.30" y="170.97" width="2.05" height="8.38" fill="#f2df2c"/>
<rect x="470.10" y="170.97" width="2.05" height="8.38" fill="#27a0a7"/>
<rect x="471.90" y="170.97" width="2.05" height="8.38" fill="#48bc76"/>
<rect x="473.70" y="170.97" width="2.05" height="8.38" fill="#27a0a7"/>
<rect x="475.50" y="170.97" width="2.05" height="8.38" fill="#f2df2c"/>
<rect x="477.30" y="170.97" width="2.05" height="8.38" fill="#27a0a7"/>
<rect x="479.10" y="170.97" width="2.05" height="8.38" fill="#48bc76"/>
<rect x="480.90" y="170.97" width="2.05" height="8.38" fill="#f2df2c"/>
<rect x="482.70" y="170.97" width="12.85" height="8.38" fill="#27a0a7"/>
<rect x="495.30" y="170.97" width="4.75" height="8.38" fill="#48bc76"/>
<rect x="499.80" y="170.97" width="4.75" height="8.38" fill="#f2df2c"/>
<rect x="504.30" y="170.97" width="4.75" height="8.38" fill="#b3d546"/>
<rect x="508.80" y="170.97" width="2.95" height="8.38" fill="#48bc76"/>
<rect x="511.50" y="170.97" width="2.05" height="8.38" fill="#b3d546"/>
<rect x="513.30" y="170.97" width="4.75" height="8.38" fill="#27a0a7"/>
<rect x="517.80" y="170.97" width="2.05" height="8.38" fill="#48bc76"/>
<rect x="519.60" y="170.97" width="2.95" height="8.38" fill="#27a0a7"/>
<rect x="522.30" y="170.97" width="2.95" height="8.38" fill="#b3d546"/>
<rect x="525.00" y="170.97" width="2.05" height="8.38" fill="#48bc76"/>
<rect x="526.80" y="170.97" width="2.95" height="8.38" fill="#b3d546"/>
<rect x="529.50" y="170.97" width="2.95" height="8.38" fill="#5b2d83"/>
<rect x="532.20" y="170.97" width="11.05" height="8.38" fill="#f2df2c"/>
<rect x="543.00" y="170.97" width="2.05" height="8.38" fill="#b3d546"/>
</g>

<!-- light blue neuron -->
<g fill="none" stroke="#29a8df" stroke-linecap="round">
<path d="M405.8,133 C405.5,143 404.8,154 404.2,164" stroke-width="2.3"/>
<path d="M405.8,133.5 L399.5,125 M405.8,133.5 L404,126 M405.8,133.5 L409,126.5 M405.8,133.5 L410.8,124.5 M405.8,133.5 L412.5,128" stroke-width="1.4"/>
</g>
<path d="M403.6,162.5 C403.3,166.5 398.5,168.8 396.3,172.3 C394.2,175.8 394.5,181 397,183.6 C400.5,183 404,180 405.5,176 C406.8,172.5 406.2,168 405.4,162.5 Z" fill="#29a8df"/>
<!-- dark blue neuron -->
<g fill="none" stroke="#2e3192" stroke-linecap="round">
<path d="M570.9,132 C570.5,144 569.8,156 569.1,167" stroke-width="2.4"/>
<path d="M570.9,132.5 L557.7,122.4 M563.8,127.2 L564.7,122 M570.9,132.5 L568.5,120.2 M570.9,132.5 L570.2,121 M570.9,132.5 L574,120.8 M572.8,126.5 L578.3,123.3 M570.9,132.5 L579.6,126.4" stroke-width="1.4"/>
</g>
<path d="M568,165 C566,168 561.5,171 560,174.5 C558.6,178 559.5,181 562.3,182.6 C565.5,181.5 569,178.5 570.2,174.5 C571.2,171 570.8,168 570.2,165 Z" fill="#2e3192"/>

<!-- regulation curves -->
<g fill="none" stroke="#666669" stroke-width="1.6">
<path d="M213.4,210 L248,210 C300,210 344,238 396,238 L430.7,238"/>
<path d="M213.4,238 L248,238 C300,238 344,210 396,210 L430.7,210"/>
<path d="M347.6,267.7 L382,267.7 C434,267.7 478,295.4 530,295.4 L564.5,295.4"/>
<path d="M347.6,295.4 L382,295.4 C434,295.4 478,267.7 530,267.7 L564.5,267.7"/>
</g>
<g font-size="17" fill="#58595b" stroke="#58595b" stroke-width="0.3">
<text x="213.2" y="206.8">Turn-OFF</text>
<text x="213.2" y="253.3">Turn-ON</text>
<text x="348.2" y="265.5">Turn-OFF</text>
<text x="348.2" y="310.6">Turn-ON</text>
</g>

<!-- panels -->
<g fill="none" stroke="#d3d3d6" stroke-width="1.5">
<rect x="186" y="319" width="379" height="64"/>
<rect x="186" y="387.1" width="379" height="64.2"/>
<rect x="186" y="455.1" width="379" height="64"/>
<rect x="186" y="522.9" width="379" height="64"/>
</g>
<!-- panel labels -->
<g font-size="17.4" text-anchor="middle">
<text x="117.9" y="346.3" fill="#e5007e" stroke="#e5007e" stroke-width="0.3">Autophagy Flux</text>
<text x="118" y="366.3" fill="#fbd9eb" stroke="#f39ccb" stroke-width="1.1">Vesicle Content</text>
<text x="117.9" y="414.6" fill="#2e3192" stroke="#2e3192" stroke-width="0.3">Cellular</text>
<text x="117.8" y="434.5" fill="#2e3192" stroke="#2e3192" stroke-width="0.3">ROS</text>
<text x="117.8" y="491" fill="#1fa055" stroke="#1fa055" stroke-width="0.3">Translation</text>
<text x="117.9" y="549.7" fill="#f7941d" stroke="#f7941d" stroke-width="0.3">Mitochondrial</text>
<text x="118.1" y="570.9" fill="#f7941d" stroke="#f7941d" stroke-width="0.3">Content</text>
</g>

<!-- curves -->
<path d="M186,361.6 L197,361.6 C210,361.6 224,337.8 238.4,337.8 C254,337.8 268,361.3 284,361.3 L565,361.3" fill="none" stroke="#e6007e" stroke-width="2"/>
<path d="M199,361.5 C300,349 380,339 450,333.4 C500,330 540,328.7 565,328.7" fill="none" stroke="#e6007e" stroke-width="2" stroke-dasharray="6.2,5.3"/>
<path d="M186,446.8 C300,443 380,442 420,437.9 C460,433 490,420 511,409.2 C530,399 548,393 565,390.6" fill="none" stroke="#343b95" stroke-width="1.8"/>
<path d="M186,464.5 C250,476 330,487 380,490.2 C450,494.5 520,500 565,501.5" fill="none" stroke="#22a45a" stroke-width="1.8"/>
<path d="M186,550.3 L290,550.3 C330,550.5 370,555 400,561.5 C430,567.5 450,569.5 490,569.6 L565,569.2" fill="none" stroke="#f59b3a" stroke-width="1.8"/>

<!-- border -->
<rect x="13" y="12.6" width="579.6" height="578" fill="none" stroke="#000" stroke-width="3.5"/>
</svg>
</body></html>
